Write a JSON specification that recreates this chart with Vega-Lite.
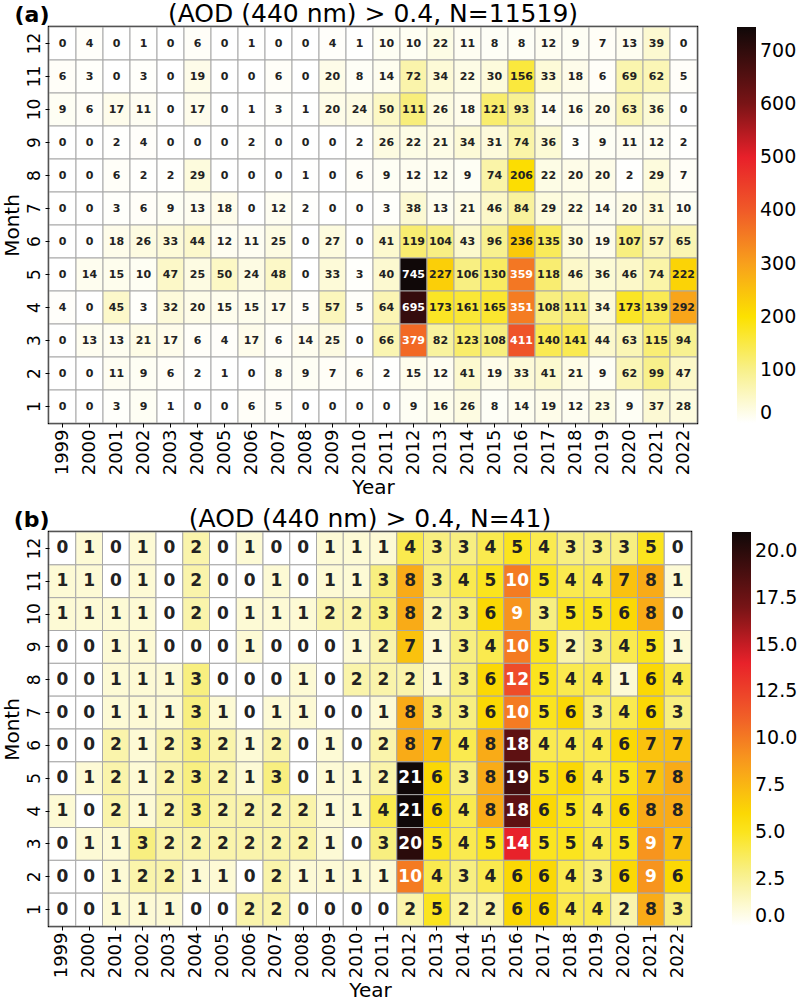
{
"$schema":"https://vega.github.io/schema/vega-lite/v6.json",
"padding":{"left":0,"top":0,"right":0,"bottom":0},
"spacing":5,
"config":{"view":{"stroke":"black","strokeWidth":2.5},"font":"DejaVu Sans",
"axis":{"labelFont":"DejaVu Sans","labelColor":"black","titleColor":"black","titleFont":"DejaVu Sans","titleFontWeight":"normal","titleFontSize":20,"tickColor":"black","tickSize":4,"domain":false,"grid":false},
"legend":{"labelFont":"DejaVu Sans","labelColor":"black"},
"title":{"font":"DejaVu Sans","fontWeight":"normal","color":"black"}},
"resolve":{"scale":{"color":"independent"}},
"datasets":{
"a":[
{"y":1999,"m":12,"n":0},{"y":2000,"m":12,"n":4},{"y":2001,"m":12,"n":0},{"y":2002,"m":12,"n":1},{"y":2003,"m":12,"n":0},{"y":2004,"m":12,"n":6},{"y":2005,"m":12,"n":0},{"y":2006,"m":12,"n":1},{"y":2007,"m":12,"n":0},{"y":2008,"m":12,"n":0},{"y":2009,"m":12,"n":4},{"y":2010,"m":12,"n":1},{"y":2011,"m":12,"n":10},{"y":2012,"m":12,"n":10},{"y":2013,"m":12,"n":22},{"y":2014,"m":12,"n":11},{"y":2015,"m":12,"n":8},{"y":2016,"m":12,"n":8},{"y":2017,"m":12,"n":12},{"y":2018,"m":12,"n":9},{"y":2019,"m":12,"n":7},{"y":2020,"m":12,"n":13},{"y":2021,"m":12,"n":39},{"y":2022,"m":12,"n":0},
{"y":1999,"m":11,"n":6},{"y":2000,"m":11,"n":3},{"y":2001,"m":11,"n":0},{"y":2002,"m":11,"n":3},{"y":2003,"m":11,"n":0},{"y":2004,"m":11,"n":19},{"y":2005,"m":11,"n":0},{"y":2006,"m":11,"n":0},{"y":2007,"m":11,"n":6},{"y":2008,"m":11,"n":0},{"y":2009,"m":11,"n":20},{"y":2010,"m":11,"n":8},{"y":2011,"m":11,"n":14},{"y":2012,"m":11,"n":72},{"y":2013,"m":11,"n":34},{"y":2014,"m":11,"n":22},{"y":2015,"m":11,"n":30},{"y":2016,"m":11,"n":156},{"y":2017,"m":11,"n":33},{"y":2018,"m":11,"n":18},{"y":2019,"m":11,"n":6},{"y":2020,"m":11,"n":69},{"y":2021,"m":11,"n":62},{"y":2022,"m":11,"n":5},
{"y":1999,"m":10,"n":9},{"y":2000,"m":10,"n":6},{"y":2001,"m":10,"n":17},{"y":2002,"m":10,"n":11},{"y":2003,"m":10,"n":0},{"y":2004,"m":10,"n":17},{"y":2005,"m":10,"n":0},{"y":2006,"m":10,"n":1},{"y":2007,"m":10,"n":3},{"y":2008,"m":10,"n":1},{"y":2009,"m":10,"n":20},{"y":2010,"m":10,"n":24},{"y":2011,"m":10,"n":50},{"y":2012,"m":10,"n":111},{"y":2013,"m":10,"n":26},{"y":2014,"m":10,"n":18},{"y":2015,"m":10,"n":121},{"y":2016,"m":10,"n":93},{"y":2017,"m":10,"n":14},{"y":2018,"m":10,"n":16},{"y":2019,"m":10,"n":20},{"y":2020,"m":10,"n":63},{"y":2021,"m":10,"n":36},{"y":2022,"m":10,"n":0},
{"y":1999,"m":9,"n":0},{"y":2000,"m":9,"n":0},{"y":2001,"m":9,"n":2},{"y":2002,"m":9,"n":4},{"y":2003,"m":9,"n":0},{"y":2004,"m":9,"n":0},{"y":2005,"m":9,"n":0},{"y":2006,"m":9,"n":2},{"y":2007,"m":9,"n":0},{"y":2008,"m":9,"n":0},{"y":2009,"m":9,"n":0},{"y":2010,"m":9,"n":2},{"y":2011,"m":9,"n":26},{"y":2012,"m":9,"n":22},{"y":2013,"m":9,"n":21},{"y":2014,"m":9,"n":34},{"y":2015,"m":9,"n":31},{"y":2016,"m":9,"n":74},{"y":2017,"m":9,"n":36},{"y":2018,"m":9,"n":3},{"y":2019,"m":9,"n":9},{"y":2020,"m":9,"n":11},{"y":2021,"m":9,"n":12},{"y":2022,"m":9,"n":2},
{"y":1999,"m":8,"n":0},{"y":2000,"m":8,"n":0},{"y":2001,"m":8,"n":6},{"y":2002,"m":8,"n":2},{"y":2003,"m":8,"n":2},{"y":2004,"m":8,"n":29},{"y":2005,"m":8,"n":0},{"y":2006,"m":8,"n":0},{"y":2007,"m":8,"n":0},{"y":2008,"m":8,"n":1},{"y":2009,"m":8,"n":0},{"y":2010,"m":8,"n":6},{"y":2011,"m":8,"n":9},{"y":2012,"m":8,"n":12},{"y":2013,"m":8,"n":12},{"y":2014,"m":8,"n":9},{"y":2015,"m":8,"n":74},{"y":2016,"m":8,"n":206},{"y":2017,"m":8,"n":22},{"y":2018,"m":8,"n":20},{"y":2019,"m":8,"n":20},{"y":2020,"m":8,"n":2},{"y":2021,"m":8,"n":29},{"y":2022,"m":8,"n":7},
{"y":1999,"m":7,"n":0},{"y":2000,"m":7,"n":0},{"y":2001,"m":7,"n":3},{"y":2002,"m":7,"n":6},{"y":2003,"m":7,"n":9},{"y":2004,"m":7,"n":13},{"y":2005,"m":7,"n":18},{"y":2006,"m":7,"n":0},{"y":2007,"m":7,"n":12},{"y":2008,"m":7,"n":2},{"y":2009,"m":7,"n":0},{"y":2010,"m":7,"n":0},{"y":2011,"m":7,"n":3},{"y":2012,"m":7,"n":38},{"y":2013,"m":7,"n":13},{"y":2014,"m":7,"n":21},{"y":2015,"m":7,"n":46},{"y":2016,"m":7,"n":84},{"y":2017,"m":7,"n":29},{"y":2018,"m":7,"n":22},{"y":2019,"m":7,"n":14},{"y":2020,"m":7,"n":20},{"y":2021,"m":7,"n":31},{"y":2022,"m":7,"n":10},
{"y":1999,"m":6,"n":0},{"y":2000,"m":6,"n":0},{"y":2001,"m":6,"n":18},{"y":2002,"m":6,"n":26},{"y":2003,"m":6,"n":33},{"y":2004,"m":6,"n":44},{"y":2005,"m":6,"n":12},{"y":2006,"m":6,"n":11},{"y":2007,"m":6,"n":25},{"y":2008,"m":6,"n":0},{"y":2009,"m":6,"n":27},{"y":2010,"m":6,"n":0},{"y":2011,"m":6,"n":41},{"y":2012,"m":6,"n":119},{"y":2013,"m":6,"n":104},{"y":2014,"m":6,"n":43},{"y":2015,"m":6,"n":96},{"y":2016,"m":6,"n":236},{"y":2017,"m":6,"n":135},{"y":2018,"m":6,"n":30},{"y":2019,"m":6,"n":19},{"y":2020,"m":6,"n":107},{"y":2021,"m":6,"n":57},{"y":2022,"m":6,"n":65},
{"y":1999,"m":5,"n":0},{"y":2000,"m":5,"n":14},{"y":2001,"m":5,"n":15},{"y":2002,"m":5,"n":10},{"y":2003,"m":5,"n":47},{"y":2004,"m":5,"n":25},{"y":2005,"m":5,"n":50},{"y":2006,"m":5,"n":24},{"y":2007,"m":5,"n":48},{"y":2008,"m":5,"n":0},{"y":2009,"m":5,"n":33},{"y":2010,"m":5,"n":3},{"y":2011,"m":5,"n":40},{"y":2012,"m":5,"n":745},{"y":2013,"m":5,"n":227},{"y":2014,"m":5,"n":106},{"y":2015,"m":5,"n":130},{"y":2016,"m":5,"n":359},{"y":2017,"m":5,"n":118},{"y":2018,"m":5,"n":46},{"y":2019,"m":5,"n":36},{"y":2020,"m":5,"n":46},{"y":2021,"m":5,"n":74},{"y":2022,"m":5,"n":222},
{"y":1999,"m":4,"n":4},{"y":2000,"m":4,"n":0},{"y":2001,"m":4,"n":45},{"y":2002,"m":4,"n":3},{"y":2003,"m":4,"n":32},{"y":2004,"m":4,"n":20},{"y":2005,"m":4,"n":15},{"y":2006,"m":4,"n":15},{"y":2007,"m":4,"n":17},{"y":2008,"m":4,"n":5},{"y":2009,"m":4,"n":57},{"y":2010,"m":4,"n":5},{"y":2011,"m":4,"n":64},{"y":2012,"m":4,"n":695},{"y":2013,"m":4,"n":173},{"y":2014,"m":4,"n":161},{"y":2015,"m":4,"n":165},{"y":2016,"m":4,"n":351},{"y":2017,"m":4,"n":108},{"y":2018,"m":4,"n":111},{"y":2019,"m":4,"n":34},{"y":2020,"m":4,"n":173},{"y":2021,"m":4,"n":139},{"y":2022,"m":4,"n":292},
{"y":1999,"m":3,"n":0},{"y":2000,"m":3,"n":13},{"y":2001,"m":3,"n":13},{"y":2002,"m":3,"n":21},{"y":2003,"m":3,"n":17},{"y":2004,"m":3,"n":6},{"y":2005,"m":3,"n":4},{"y":2006,"m":3,"n":17},{"y":2007,"m":3,"n":6},{"y":2008,"m":3,"n":14},{"y":2009,"m":3,"n":25},{"y":2010,"m":3,"n":0},{"y":2011,"m":3,"n":66},{"y":2012,"m":3,"n":379},{"y":2013,"m":3,"n":82},{"y":2014,"m":3,"n":123},{"y":2015,"m":3,"n":108},{"y":2016,"m":3,"n":411},{"y":2017,"m":3,"n":140},{"y":2018,"m":3,"n":141},{"y":2019,"m":3,"n":44},{"y":2020,"m":3,"n":63},{"y":2021,"m":3,"n":115},{"y":2022,"m":3,"n":94},
{"y":1999,"m":2,"n":0},{"y":2000,"m":2,"n":0},{"y":2001,"m":2,"n":11},{"y":2002,"m":2,"n":9},{"y":2003,"m":2,"n":6},{"y":2004,"m":2,"n":2},{"y":2005,"m":2,"n":1},{"y":2006,"m":2,"n":0},{"y":2007,"m":2,"n":8},{"y":2008,"m":2,"n":9},{"y":2009,"m":2,"n":7},{"y":2010,"m":2,"n":6},{"y":2011,"m":2,"n":2},{"y":2012,"m":2,"n":15},{"y":2013,"m":2,"n":12},{"y":2014,"m":2,"n":41},{"y":2015,"m":2,"n":19},{"y":2016,"m":2,"n":33},{"y":2017,"m":2,"n":41},{"y":2018,"m":2,"n":21},{"y":2019,"m":2,"n":9},{"y":2020,"m":2,"n":62},{"y":2021,"m":2,"n":99},{"y":2022,"m":2,"n":47},
{"y":1999,"m":1,"n":0},{"y":2000,"m":1,"n":0},{"y":2001,"m":1,"n":3},{"y":2002,"m":1,"n":9},{"y":2003,"m":1,"n":1},{"y":2004,"m":1,"n":0},{"y":2005,"m":1,"n":0},{"y":2006,"m":1,"n":6},{"y":2007,"m":1,"n":5},{"y":2008,"m":1,"n":0},{"y":2009,"m":1,"n":0},{"y":2010,"m":1,"n":0},{"y":2011,"m":1,"n":0},{"y":2012,"m":1,"n":9},{"y":2013,"m":1,"n":16},{"y":2014,"m":1,"n":26},{"y":2015,"m":1,"n":8},{"y":2016,"m":1,"n":14},{"y":2017,"m":1,"n":19},{"y":2018,"m":1,"n":12},{"y":2019,"m":1,"n":23},{"y":2020,"m":1,"n":9},{"y":2021,"m":1,"n":37},{"y":2022,"m":1,"n":28}
],
"b":[
{"y":1999,"m":12,"n":0},{"y":2000,"m":12,"n":1},{"y":2001,"m":12,"n":0},{"y":2002,"m":12,"n":1},{"y":2003,"m":12,"n":0},{"y":2004,"m":12,"n":2},{"y":2005,"m":12,"n":0},{"y":2006,"m":12,"n":1},{"y":2007,"m":12,"n":0},{"y":2008,"m":12,"n":0},{"y":2009,"m":12,"n":1},{"y":2010,"m":12,"n":1},{"y":2011,"m":12,"n":1},{"y":2012,"m":12,"n":4},{"y":2013,"m":12,"n":3},{"y":2014,"m":12,"n":3},{"y":2015,"m":12,"n":4},{"y":2016,"m":12,"n":5},{"y":2017,"m":12,"n":4},{"y":2018,"m":12,"n":3},{"y":2019,"m":12,"n":3},{"y":2020,"m":12,"n":3},{"y":2021,"m":12,"n":5},{"y":2022,"m":12,"n":0},
{"y":1999,"m":11,"n":1},{"y":2000,"m":11,"n":1},{"y":2001,"m":11,"n":0},{"y":2002,"m":11,"n":1},{"y":2003,"m":11,"n":0},{"y":2004,"m":11,"n":2},{"y":2005,"m":11,"n":0},{"y":2006,"m":11,"n":0},{"y":2007,"m":11,"n":1},{"y":2008,"m":11,"n":0},{"y":2009,"m":11,"n":1},{"y":2010,"m":11,"n":1},{"y":2011,"m":11,"n":3},{"y":2012,"m":11,"n":8},{"y":2013,"m":11,"n":3},{"y":2014,"m":11,"n":4},{"y":2015,"m":11,"n":5},{"y":2016,"m":11,"n":10},{"y":2017,"m":11,"n":5},{"y":2018,"m":11,"n":4},{"y":2019,"m":11,"n":4},{"y":2020,"m":11,"n":7},{"y":2021,"m":11,"n":8},{"y":2022,"m":11,"n":1},
{"y":1999,"m":10,"n":1},{"y":2000,"m":10,"n":1},{"y":2001,"m":10,"n":1},{"y":2002,"m":10,"n":1},{"y":2003,"m":10,"n":0},{"y":2004,"m":10,"n":2},{"y":2005,"m":10,"n":0},{"y":2006,"m":10,"n":1},{"y":2007,"m":10,"n":1},{"y":2008,"m":10,"n":1},{"y":2009,"m":10,"n":2},{"y":2010,"m":10,"n":2},{"y":2011,"m":10,"n":3},{"y":2012,"m":10,"n":8},{"y":2013,"m":10,"n":2},{"y":2014,"m":10,"n":3},{"y":2015,"m":10,"n":6},{"y":2016,"m":10,"n":9},{"y":2017,"m":10,"n":3},{"y":2018,"m":10,"n":5},{"y":2019,"m":10,"n":5},{"y":2020,"m":10,"n":6},{"y":2021,"m":10,"n":8},{"y":2022,"m":10,"n":0},
{"y":1999,"m":9,"n":0},{"y":2000,"m":9,"n":0},{"y":2001,"m":9,"n":1},{"y":2002,"m":9,"n":1},{"y":2003,"m":9,"n":0},{"y":2004,"m":9,"n":0},{"y":2005,"m":9,"n":0},{"y":2006,"m":9,"n":1},{"y":2007,"m":9,"n":0},{"y":2008,"m":9,"n":0},{"y":2009,"m":9,"n":0},{"y":2010,"m":9,"n":1},{"y":2011,"m":9,"n":2},{"y":2012,"m":9,"n":7},{"y":2013,"m":9,"n":1},{"y":2014,"m":9,"n":3},{"y":2015,"m":9,"n":4},{"y":2016,"m":9,"n":10},{"y":2017,"m":9,"n":5},{"y":2018,"m":9,"n":2},{"y":2019,"m":9,"n":3},{"y":2020,"m":9,"n":4},{"y":2021,"m":9,"n":5},{"y":2022,"m":9,"n":1},
{"y":1999,"m":8,"n":0},{"y":2000,"m":8,"n":0},{"y":2001,"m":8,"n":1},{"y":2002,"m":8,"n":1},{"y":2003,"m":8,"n":1},{"y":2004,"m":8,"n":3},{"y":2005,"m":8,"n":0},{"y":2006,"m":8,"n":0},{"y":2007,"m":8,"n":0},{"y":2008,"m":8,"n":1},{"y":2009,"m":8,"n":0},{"y":2010,"m":8,"n":2},{"y":2011,"m":8,"n":2},{"y":2012,"m":8,"n":2},{"y":2013,"m":8,"n":1},{"y":2014,"m":8,"n":3},{"y":2015,"m":8,"n":6},{"y":2016,"m":8,"n":12},{"y":2017,"m":8,"n":5},{"y":2018,"m":8,"n":4},{"y":2019,"m":8,"n":4},{"y":2020,"m":8,"n":1},{"y":2021,"m":8,"n":6},{"y":2022,"m":8,"n":4},
{"y":1999,"m":7,"n":0},{"y":2000,"m":7,"n":0},{"y":2001,"m":7,"n":1},{"y":2002,"m":7,"n":1},{"y":2003,"m":7,"n":1},{"y":2004,"m":7,"n":3},{"y":2005,"m":7,"n":1},{"y":2006,"m":7,"n":0},{"y":2007,"m":7,"n":1},{"y":2008,"m":7,"n":1},{"y":2009,"m":7,"n":0},{"y":2010,"m":7,"n":0},{"y":2011,"m":7,"n":1},{"y":2012,"m":7,"n":8},{"y":2013,"m":7,"n":3},{"y":2014,"m":7,"n":3},{"y":2015,"m":7,"n":6},{"y":2016,"m":7,"n":10},{"y":2017,"m":7,"n":5},{"y":2018,"m":7,"n":6},{"y":2019,"m":7,"n":3},{"y":2020,"m":7,"n":4},{"y":2021,"m":7,"n":6},{"y":2022,"m":7,"n":3},
{"y":1999,"m":6,"n":0},{"y":2000,"m":6,"n":0},{"y":2001,"m":6,"n":2},{"y":2002,"m":6,"n":1},{"y":2003,"m":6,"n":2},{"y":2004,"m":6,"n":3},{"y":2005,"m":6,"n":2},{"y":2006,"m":6,"n":1},{"y":2007,"m":6,"n":2},{"y":2008,"m":6,"n":0},{"y":2009,"m":6,"n":1},{"y":2010,"m":6,"n":0},{"y":2011,"m":6,"n":2},{"y":2012,"m":6,"n":8},{"y":2013,"m":6,"n":7},{"y":2014,"m":6,"n":4},{"y":2015,"m":6,"n":8},{"y":2016,"m":6,"n":18},{"y":2017,"m":6,"n":4},{"y":2018,"m":6,"n":4},{"y":2019,"m":6,"n":4},{"y":2020,"m":6,"n":6},{"y":2021,"m":6,"n":7},{"y":2022,"m":6,"n":7},
{"y":1999,"m":5,"n":0},{"y":2000,"m":5,"n":1},{"y":2001,"m":5,"n":2},{"y":2002,"m":5,"n":1},{"y":2003,"m":5,"n":2},{"y":2004,"m":5,"n":3},{"y":2005,"m":5,"n":2},{"y":2006,"m":5,"n":1},{"y":2007,"m":5,"n":3},{"y":2008,"m":5,"n":0},{"y":2009,"m":5,"n":1},{"y":2010,"m":5,"n":1},{"y":2011,"m":5,"n":2},{"y":2012,"m":5,"n":21},{"y":2013,"m":5,"n":6},{"y":2014,"m":5,"n":3},{"y":2015,"m":5,"n":8},{"y":2016,"m":5,"n":19},{"y":2017,"m":5,"n":5},{"y":2018,"m":5,"n":6},{"y":2019,"m":5,"n":4},{"y":2020,"m":5,"n":5},{"y":2021,"m":5,"n":7},{"y":2022,"m":5,"n":8},
{"y":1999,"m":4,"n":1},{"y":2000,"m":4,"n":0},{"y":2001,"m":4,"n":2},{"y":2002,"m":4,"n":1},{"y":2003,"m":4,"n":2},{"y":2004,"m":4,"n":3},{"y":2005,"m":4,"n":2},{"y":2006,"m":4,"n":2},{"y":2007,"m":4,"n":2},{"y":2008,"m":4,"n":2},{"y":2009,"m":4,"n":1},{"y":2010,"m":4,"n":1},{"y":2011,"m":4,"n":4},{"y":2012,"m":4,"n":21},{"y":2013,"m":4,"n":6},{"y":2014,"m":4,"n":4},{"y":2015,"m":4,"n":8},{"y":2016,"m":4,"n":18},{"y":2017,"m":4,"n":6},{"y":2018,"m":4,"n":5},{"y":2019,"m":4,"n":4},{"y":2020,"m":4,"n":6},{"y":2021,"m":4,"n":8},{"y":2022,"m":4,"n":8},
{"y":1999,"m":3,"n":0},{"y":2000,"m":3,"n":1},{"y":2001,"m":3,"n":1},{"y":2002,"m":3,"n":3},{"y":2003,"m":3,"n":2},{"y":2004,"m":3,"n":2},{"y":2005,"m":3,"n":2},{"y":2006,"m":3,"n":2},{"y":2007,"m":3,"n":2},{"y":2008,"m":3,"n":2},{"y":2009,"m":3,"n":1},{"y":2010,"m":3,"n":0},{"y":2011,"m":3,"n":3},{"y":2012,"m":3,"n":20},{"y":2013,"m":3,"n":5},{"y":2014,"m":3,"n":4},{"y":2015,"m":3,"n":5},{"y":2016,"m":3,"n":14},{"y":2017,"m":3,"n":5},{"y":2018,"m":3,"n":5},{"y":2019,"m":3,"n":4},{"y":2020,"m":3,"n":5},{"y":2021,"m":3,"n":9},{"y":2022,"m":3,"n":7},
{"y":1999,"m":2,"n":0},{"y":2000,"m":2,"n":0},{"y":2001,"m":2,"n":1},{"y":2002,"m":2,"n":2},{"y":2003,"m":2,"n":2},{"y":2004,"m":2,"n":1},{"y":2005,"m":2,"n":1},{"y":2006,"m":2,"n":0},{"y":2007,"m":2,"n":2},{"y":2008,"m":2,"n":1},{"y":2009,"m":2,"n":1},{"y":2010,"m":2,"n":1},{"y":2011,"m":2,"n":1},{"y":2012,"m":2,"n":10},{"y":2013,"m":2,"n":4},{"y":2014,"m":2,"n":3},{"y":2015,"m":2,"n":4},{"y":2016,"m":2,"n":6},{"y":2017,"m":2,"n":6},{"y":2018,"m":2,"n":4},{"y":2019,"m":2,"n":3},{"y":2020,"m":2,"n":6},{"y":2021,"m":2,"n":9},{"y":2022,"m":2,"n":6},
{"y":1999,"m":1,"n":0},{"y":2000,"m":1,"n":0},{"y":2001,"m":1,"n":1},{"y":2002,"m":1,"n":1},{"y":2003,"m":1,"n":1},{"y":2004,"m":1,"n":0},{"y":2005,"m":1,"n":0},{"y":2006,"m":1,"n":2},{"y":2007,"m":1,"n":2},{"y":2008,"m":1,"n":0},{"y":2009,"m":1,"n":0},{"y":2010,"m":1,"n":0},{"y":2011,"m":1,"n":0},{"y":2012,"m":1,"n":2},{"y":2013,"m":1,"n":5},{"y":2014,"m":1,"n":2},{"y":2015,"m":1,"n":2},{"y":2016,"m":1,"n":6},{"y":2017,"m":1,"n":6},{"y":2018,"m":1,"n":4},{"y":2019,"m":1,"n":4},{"y":2020,"m":1,"n":2},{"y":2021,"m":1,"n":8},{"y":2022,"m":1,"n":3}
]},
"vconcat":[
{"width":648,"height":396,"data":{"name":"a"},
"title":{"text":"(AOD (440 nm) > 0.4, N=11519)","anchor":"middle","frame":"group","fontSize":25,"offset":-24},
"resolve":{"axis":{"x":"independent"}},
"layer":[
{"mark":{"type":"rect","stroke":"#a8a8a8","strokeWidth":1},
"encoding":{
"x":{"field":"y","type":"ordinal","title":"Year","scale":{"paddingInner":0,"paddingOuter":0},"axis":{"orient":"bottom","labelAngle":-90,"labelAlign":"right","labelBaseline":"middle","labelFontSize":18,"titlePadding":3}},
"y":{"field":"m","type":"ordinal","sort":"descending","title":"Month","scale":{"paddingInner":0,"paddingOuter":0},"axis":{"orient":"left","labelAngle":-90,"labelAlign":"center","labelBaseline":"bottom","labelFontSize":17,"titlePadding":3}},
"color":{"field":"n","type":"quantitative","scale":{"domain":[0,100,200,300,400,500,600,745],"range":["#ffffff","#f8f08a","#fce100","#f8a01c","#f05a28","#e8202a","#7a1416","#100808"],"interpolate":"rgb"},
"legend":{"title":null,"orient":"right","offset":40,"gradientLength":396,"gradientThickness":19,"labelFontSize":19,"labelOffset":4,"values":[0,100,200,300,400,500,600,700],"format":"d","padding":0,"gradientStrokeWidth":0}}}},
{"mark":{"type":"text","fontWeight":"bold","fontSize":11,"font":"DejaVu Sans"},
"encoding":{
"x":{"field":"y","type":"ordinal","axis":{"orient":"top","title":"(a)","labels":false,"ticks":false,"domain":false,"titleAnchor":"start","titleAlign":"right","titleBaseline":"bottom","titleFontSize":22,"titleFontWeight":"bold","titlePadding":1}},
"y":{"field":"m","type":"ordinal","sort":"descending","title":"Month","axis":{"orient":"left","labelAngle":-90,"labelAlign":"center","labelBaseline":"bottom","labelFontSize":17,"titlePadding":3}},
"text":{"field":"n"},
"color":{"condition":{"test":"datum.n > 298","value":"white"},"value":"#222222"}}}
]},
{"width":642,"height":394,"data":{"name":"b"},
"title":{"text":"(AOD (440 nm) > 0.4, N=41)","anchor":"middle","frame":"group","fontSize":25,"offset":-24},
"resolve":{"axis":{"x":"independent"}},
"layer":[
{"mark":{"type":"rect","stroke":"#a8a8a8","strokeWidth":1},
"encoding":{
"x":{"field":"y","type":"ordinal","title":"Year","scale":{"paddingInner":0,"paddingOuter":0},"axis":{"orient":"bottom","labelAngle":-90,"labelAlign":"right","labelBaseline":"middle","labelFontSize":18,"titlePadding":3}},
"y":{"field":"m","type":"ordinal","sort":"descending","title":"Month","scale":{"paddingInner":0,"paddingOuter":0},"axis":{"orient":"left","labelAngle":-90,"labelAlign":"center","labelBaseline":"bottom","labelFontSize":17,"titlePadding":3}},
"color":{"field":"n","type":"quantitative","scale":{"domain":[0,2.8,5.6,8.5,11.3,14.1,16.9,21],"range":["#ffffff","#f8f08a","#fce100","#f8a01c","#f05a28","#e8202a","#7a1416","#100808"],"interpolate":"rgb"},
"legend":{"title":null,"orient":"right","offset":41,"gradientLength":394,"gradientThickness":19,"labelFontSize":19,"labelOffset":4,"values":[0,2.5,5,7.5,10,12.5,15,17.5,20],"format":".1f","padding":0,"gradientStrokeWidth":0}}}},
{"mark":{"type":"text","fontWeight":"bold","fontSize":17,"font":"DejaVu Sans"},
"encoding":{
"x":{"field":"y","type":"ordinal","axis":{"orient":"top","title":"(b)","labels":false,"ticks":false,"domain":false,"titleAnchor":"start","titleAlign":"right","titleBaseline":"bottom","titleFontSize":22,"titleFontWeight":"bold","titlePadding":1}},
"y":{"field":"m","type":"ordinal","sort":"descending","title":"Month","axis":{"orient":"left","labelAngle":-90,"labelAlign":"center","labelBaseline":"bottom","labelFontSize":17,"titlePadding":3}},
"text":{"field":"n"},
"color":{"condition":{"test":"datum.n > 8.4","value":"white"},"value":"#222222"}}}
]}
]
}
